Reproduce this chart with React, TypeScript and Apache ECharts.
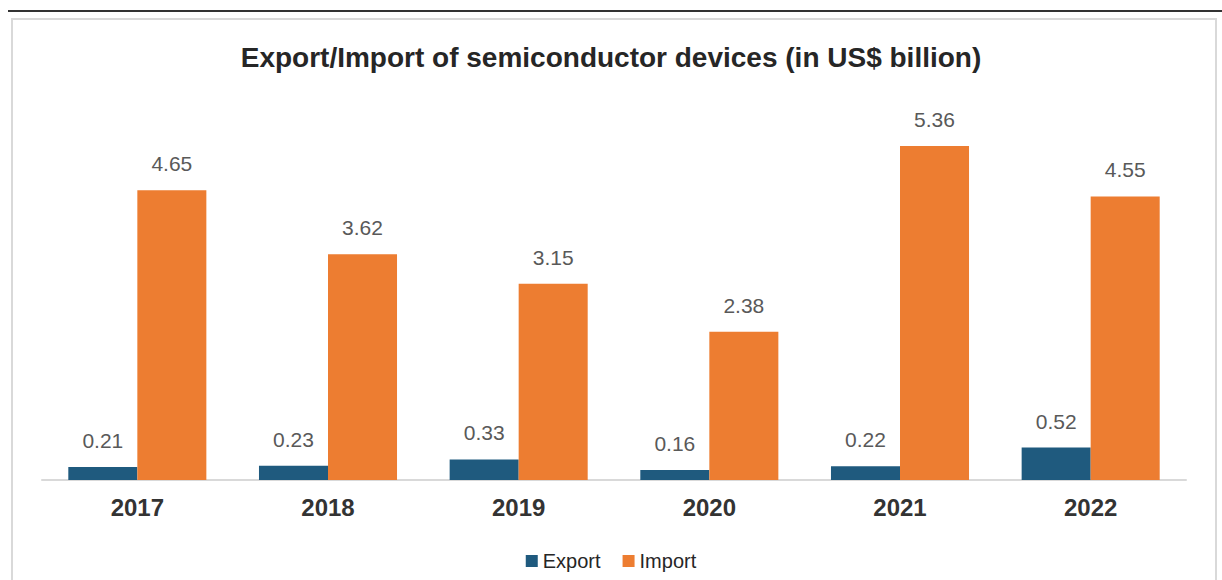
import React, { useEffect, useRef } from "react";
import * as echarts from "echarts";

const categories = ["2017", "2018", "2019", "2020", "2021", "2022"];
const exportValues = [0.21, 0.23, 0.33, 0.16, 0.22, 0.52];
const importValues = [4.65, 3.62, 3.15, 2.38, 5.36, 4.55];
const seriesNames = ["Export", "Import"];
const titleText = "Export/Import of semiconductor devices (in US$ billion)";

export default function App() {
  const ref = useRef<HTMLDivElement>(null);
  useEffect(() => {
    if (!ref.current) return;
    const chart = echarts.init(ref.current, null, { renderer: "svg" });
    const labelStyle = {
      show: true,
      position: "top",
      distance: 16,
      fontSize: 21,
      color: "#595959",
      fontFamily: "Liberation Sans",
    };
    chart.setOption({
      animation: false,
      backgroundColor: "#ffffff",
      graphic: [
        { type: "rect", shape: { x: 8, y: 10, width: 1214, height: 2 }, style: { fill: "#333333" }, silent: true },
        { type: "rect", shape: { x: 12, y: 19, width: 1204, height: 575 }, style: { fill: "none", stroke: "#d9d9d9", lineWidth: 2 }, silent: true },
      ],
      title: {
        text: titleText,
        left: "center",
        top: 38,
        textStyle: { fontSize: 28, fontWeight: "bold", color: "#262626", fontFamily: "Liberation Sans" },
      },
      legend: {
        data: seriesNames,
        top: 546,
        left: "center",
        itemWidth: 12,
        itemHeight: 12,
        itemGap: 22,
        icon: "rect",
        textStyle: { fontSize: 20, color: "#262626", fontFamily: "Liberation Sans" },
      },
      grid: { left: 42, right: 36, top: 106, bottom: 100 },
      xAxis: {
        type: "category",
        data: categories,
        axisLine: { lineStyle: { color: "#d9d9d9", width: 2 } },
        axisTick: { show: false },
        axisLabel: { fontSize: 24, fontWeight: "bold", color: "#333333", margin: 15, fontFamily: "Liberation Sans" },
      },
      yAxis: { type: "value", min: 0, max: 6, show: false, splitLine: { show: false } },
      series: [
        {
          name: seriesNames[0],
          type: "bar",
          data: exportValues,
          itemStyle: { color: "#1f5a7e" },
          barGap: "0%",
          barCategoryGap: "27.6%",
          label: labelStyle,
        },
        {
          name: seriesNames[1],
          type: "bar",
          data: importValues,
          itemStyle: { color: "#ed7d31" },
          barGap: "0%",
          barCategoryGap: "27.6%",
          label: labelStyle,
        },
      ],
    });
    return () => chart.dispose();
  }, []);
  return (
    <div
      ref={ref}
      style={{ position: "absolute", left: 0, top: 0, width: 1222, height: 580 }}
    />
  );
}
